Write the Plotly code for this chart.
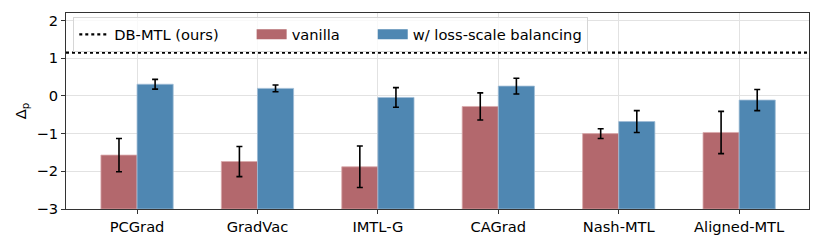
import plotly.graph_objects as go

methods = ["PCGrad", "GradVac", "IMTL-G", "CAGrad", "Nash-MTL", "Aligned-MTL"]
vanilla = [-1.57, -1.74, -1.88, -0.28, -1.00, -0.97]
vanilla_err = [0.44, 0.40, 0.55, 0.36, 0.13, 0.56]
balanced = [0.31, 0.20, -0.04, 0.26, -0.68, -0.11]
balanced_err = [0.13, 0.09, 0.26, 0.21, 0.29, 0.28]
db_mtl = 1.15
yticks = [-3, -2, -1, 0, 1, 2]
y_floor = -3  # bars are drawn up from the bottom of the axis

RED = "#b3686d"
BLUE = "#4f87b2"
FONT = "DejaVu Sans"
FS = 14.67
PAD = "\u00a0" * 6

fig = go.Figure()
fig.add_trace(go.Bar(
    x=methods, y=[v - y_floor for v in vanilla], base=y_floor, name="vanilla", showlegend=False,
    marker=dict(color=RED, line=dict(color="#d9a9ac", width=0.8)),
    error_y=dict(type="data", array=vanilla_err, color="black", thickness=1.6, width=3),
))
fig.add_trace(go.Bar(
    x=methods, y=[v - y_floor for v in balanced], base=y_floor, name="w/ loss-scale balancing",
    showlegend=False,
    marker=dict(color=BLUE, line=dict(color="#9fbdd5", width=0.8)),
    error_y=dict(type="data", array=balanced_err, color="black", thickness=1.6, width=3),
))
# legend entries
fig.add_trace(go.Scatter(
    x=[None], y=[None], mode="lines", name="DB-MTL (ours)" + PAD,
    line=dict(color="black", dash="dot", width=2.2),
))
fig.add_trace(go.Scatter(
    x=[None], y=[None], mode="lines", name="vanilla" + PAD,
    line=dict(color=RED, width=10),
))
fig.add_trace(go.Scatter(
    x=[None], y=[None], mode="lines", name="w/ loss-scale balancing",
    line=dict(color=BLUE, width=10),
))
fig.add_hline(y=db_mtl, line=dict(color="black", dash="dot", width=2.2))

fig.update_layout(
    width=822, height=247,
    margin=dict(l=66, r=13, t=12, b=36),
    paper_bgcolor="white", plot_bgcolor="white",
    barmode="group", bargap=0.4, bargroupgap=0,
    font=dict(family=FONT, size=FS, color="black"),
    legend=dict(
        orientation="h", x=0.0098, y=0.978, xanchor="left", yanchor="top",
        bgcolor="rgba(255,255,255,0.8)", bordercolor="#d6d6d6", borderwidth=1,
        font=dict(size=FS), itemwidth=30,
    ),
    xaxis=dict(
        type="category", range=[-0.59, 5.58], showgrid=True, gridcolor="#e2e2e2", gridwidth=1,
        showline=True, linecolor="#333", linewidth=1, mirror=True,
        ticks="outside", ticklen=4, tickcolor="#333",
    ),
    yaxis=dict(
        range=[-3, 2.2], tickvals=yticks, showgrid=True, gridcolor="#e2e2e2", gridwidth=1,
        showline=True, linecolor="#333", linewidth=1, mirror=True,
        ticks="outside", ticklen=4, tickcolor="#333", zeroline=False,
        title=dict(text="Δ<sub>p</sub>", standoff=6, font=dict(size=FS)),
    ),
)
fig.write_html(
    "out.html",
    config={"displayModeBar": False},
    post_script="document.body.style.margin='0';document.body.style.overflow='hidden';",
)
